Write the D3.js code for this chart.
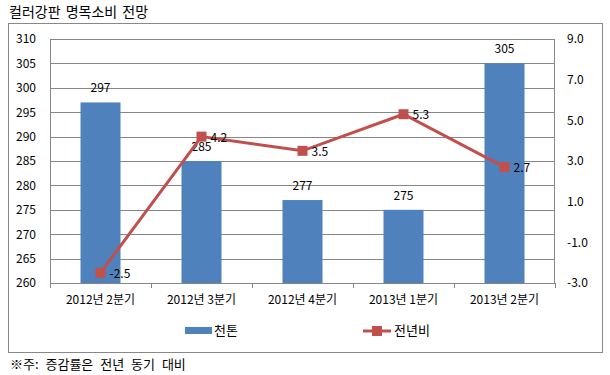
<!DOCTYPE html>
<html>
<head>
<meta charset="utf-8">
<script src="https://cdn.jsdelivr.net/npm/d3@7"></script>
<style>
  body { margin: 0; background: #fff; }
  text { font-family: "Noto Sans CJK KR", "DejaVu Sans", sans-serif; fill: #000; }
</style>
</head>
<body>
<div id="chart"></div>
<script>
// chart data
var quarters = ["2012년 2분기", "2012년 3분기", "2012년 4분기", "2013년 1분기", "2013년 2분기"];
var tonnes = [297, 285, 277, 275, 305];
var yoy = [-2.5, 4.2, 3.5, 5.3, 2.7];
var leftTicks = [260, 265, 270, 275, 280, 285, 290, 295, 300, 305, 310];
var rightTicks = [-3, -1, 1, 3, 5, 7, 9];

var W = 610, H = 375;
var margin = { top: 39, right: 55, bottom: 92, left: 50 },
    width = W - margin.left - margin.right,
    height = H - margin.top - margin.bottom;

// plain hyphen instead of unicode minus
var fmt1 = function(d) { return d3.format(".1f")(d).replace("\u2212", "-"); };
var fontStack = "'Noto Sans CJK KR', 'DejaVu Sans', sans-serif";

var svg = d3.select("#chart")
  .append("svg")
  .attr("width", W)
  .attr("height", H);

// title
svg.append("text")
   .attr("x", 9).attr("y", 17)
   .attr("font-size", "14px")
   .attr("word-spacing", "2px")
   .text("컬러강판 명목소비 전망");

// outer frame
svg.append("rect")
   .attr("x", 8.5).attr("y", 23.5)
   .attr("width", 594).attr("height", 329)
   .attr("fill", "none")
   .attr("stroke", "#888")
   .attr("stroke-width", 1);

var g = svg.append("g")
  .attr("transform", "translate(" + margin.left + "," + margin.top + ")");

var xScale = d3.scaleBand().domain(quarters).range([0, width]);
var yLeft = d3.scaleLinear().domain([260, 310]).range([height, 0]);
var yRight = d3.scaleLinear().domain([-3, 9]).range([height, 0]);

// gridlines
g.selectAll(".grid")
  .data(leftTicks)
  .enter().append("line")
  .attr("x1", 0).attr("x2", width)
  .attr("y1", d => Math.round(yLeft(d)) + 0.5)
  .attr("y2", d => Math.round(yLeft(d)) + 0.5)
  .attr("stroke", "#868686")
  .attr("stroke-width", 1);

// plot frame sides
g.append("line").attr("x1", 0.5).attr("x2", 0.5).attr("y1", 0).attr("y2", height)
  .attr("stroke", "#868686");
g.append("line").attr("x1", width - 0.5).attr("x2", width - 0.5).attr("y1", 0).attr("y2", height)
  .attr("stroke", "#868686");

// left axis labels
var leftAxis = d3.axisLeft(yLeft).tickValues(leftTicks).tickSize(0).tickPadding(14);
var la = g.append("g").call(leftAxis);
la.select(".domain").remove();
la.selectAll("text").attr("font-size", "12px").style("font-family", fontStack);

// right axis labels
var rightAxis = d3.axisRight(yRight).tickValues(rightTicks).tickSize(0).tickPadding(12)
  .tickFormat(fmt1);
var ra = g.append("g").attr("transform", "translate(" + width + ",0)").call(rightAxis);
ra.select(".domain").remove();
ra.selectAll("text").attr("font-size", "12px").style("font-family", fontStack);

// bottom axis
var bottomAxis = d3.axisBottom(xScale).tickSize(0).tickPadding(12);
var ba = g.append("g").attr("transform", "translate(0," + height + ")").call(bottomAxis);
ba.select(".domain").remove();
ba.selectAll("text").attr("font-size", "12px").style("font-family", fontStack);

// category tick marks
g.selectAll(".xtick")
  .data(d3.range(quarters.length + 1))
  .enter().append("line")
  .attr("x1", i => Math.round(i * xScale.step()) + 0.5)
  .attr("x2", i => Math.round(i * xScale.step()) + 0.5)
  .attr("y1", height).attr("y2", height + 5)
  .attr("stroke", "#868686");

// bars
var barW = 40;
g.selectAll(".bar")
  .data(tonnes)
  .enter().append("rect")
  .attr("x", (d, i) => xScale(quarters[i]) + xScale.bandwidth() / 2 - barW / 2)
  .attr("y", d => yLeft(d))
  .attr("width", barW)
  .attr("height", d => height - yLeft(d))
  .attr("fill", "#4F81BD");

g.selectAll(".barlabel")
  .data(tonnes)
  .enter().append("text")
  .attr("x", (d, i) => xScale(quarters[i]) + xScale.bandwidth() / 2)
  .attr("y", d => yLeft(d) - 10)
  .attr("text-anchor", "middle")
  .attr("font-size", "12px")
  .text(d => d);

// line
var cx = i => xScale(quarters[i]) + xScale.bandwidth() / 2;
var line = d3.line()
  .x((d, i) => cx(i))
  .y(d => yRight(d));

g.append("path")
  .datum(yoy)
  .attr("d", line)
  .attr("fill", "none")
  .attr("stroke", "#C0504D")
  .attr("stroke-width", 3);

g.selectAll(".marker")
  .data(yoy)
  .enter().append("rect")
  .attr("x", (d, i) => cx(i) - 5)
  .attr("y", d => yRight(d) - 5)
  .attr("width", 10).attr("height", 10)
  .attr("fill", "#C0504D");

g.selectAll(".linelabel")
  .data(yoy)
  .enter().append("text")
  .attr("x", (d, i) => cx(i) + 9)
  .attr("y", d => yRight(d) + 5)
  .attr("font-size", "12px")
  .text(d => fmt1(d));

// legend
svg.append("rect")
   .attr("x", 185).attr("y", 327)
   .attr("width", 27).attr("height", 7)
   .attr("fill", "#4F81BD");
svg.append("text")
   .attr("x", 214).attr("y", 335)
   .attr("font-size", "13px")
   .text("천톤");

svg.append("line")
   .attr("x1", 363).attr("x2", 391)
   .attr("y1", 331).attr("y2", 331)
   .attr("stroke", "#C0504D").attr("stroke-width", 3);
svg.append("rect")
   .attr("x", 372).attr("y", 326)
   .attr("width", 10).attr("height", 10)
   .attr("fill", "#C0504D");
svg.append("text")
   .attr("x", 394).attr("y", 335)
   .attr("font-size", "13px")
   .text("전년비");

// footnote
svg.append("text")
   .attr("x", 10).attr("y", 369)
   .attr("font-size", "13px")
   .attr("word-spacing", "4px")
   .text("※주: 증감률은 전년 동기 대비");
</script>
</body>
</html>
